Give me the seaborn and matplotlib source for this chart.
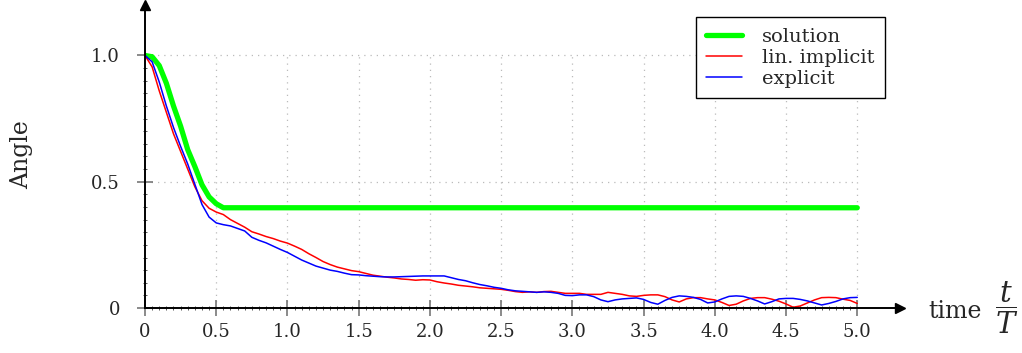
import numpy as np
import pandas as pd
import matplotlib
matplotlib.use('Agg')
import matplotlib.pyplot as plt
import seaborn as sns

# time grid (t/T) for the two numerical schemes
t = np.round(np.arange(0, 5.0001, 0.05), 2)

# exact solution, read at a few points, flat after t=0.55
t_sol = [0, 0.05, 0.1, 0.15, 0.2, 0.25, 0.3, 0.35, 0.4, 0.45, 0.5, 0.55, 5.0]
solution = [1.0, 0.995, 0.96, 0.89, 0.80, 0.72, 0.627, 0.56, 0.488, 0.44, 0.413, 0.397, 0.397]

lin_implicit = [
    1.0, 0.955, 0.86, 0.775, 0.69, 0.62, 0.55, 0.48, 0.425, 0.395,
    0.38, 0.37, 0.35, 0.335, 0.32, 0.302, 0.293, 0.283, 0.275, 0.265,
    0.257, 0.245, 0.232, 0.215, 0.2, 0.184, 0.172, 0.162, 0.155, 0.148,
    0.144, 0.137, 0.13, 0.126, 0.122, 0.119, 0.115, 0.113, 0.11, 0.112,
    0.111, 0.104, 0.099, 0.095, 0.09, 0.087, 0.084, 0.08, 0.078, 0.076,
    0.074, 0.07, 0.065, 0.062, 0.064, 0.062, 0.065, 0.066, 0.062, 0.058,
    0.058, 0.058, 0.054, 0.054, 0.054, 0.062, 0.058, 0.054, 0.048, 0.046,
    0.05, 0.052, 0.052, 0.045, 0.032, 0.024, 0.036, 0.041, 0.041, 0.036,
    0.032, 0.022, 0.01, 0.015, 0.028, 0.038, 0.041, 0.041, 0.035, 0.027,
    0.016, 0.003, 0.008, 0.02, 0.032, 0.041, 0.042, 0.041, 0.035, 0.03,
    0.018,
]

explicit = [
    1.0, 0.975, 0.895, 0.8, 0.715, 0.64, 0.57, 0.49, 0.41, 0.36,
    0.337, 0.33, 0.325, 0.315, 0.305, 0.28, 0.268, 0.258, 0.245, 0.232,
    0.22, 0.205, 0.19, 0.178, 0.166, 0.158, 0.15, 0.145, 0.138, 0.132,
    0.131, 0.128, 0.126, 0.124, 0.123, 0.123, 0.124, 0.125, 0.126, 0.127,
    0.127, 0.127, 0.127, 0.12, 0.113, 0.108, 0.1, 0.093, 0.088, 0.082,
    0.078, 0.072, 0.068, 0.066, 0.064, 0.062, 0.064, 0.062, 0.058, 0.05,
    0.049, 0.052, 0.052, 0.045, 0.032, 0.025, 0.032, 0.036, 0.038, 0.04,
    0.034, 0.022, 0.015, 0.03, 0.042, 0.048, 0.046, 0.042, 0.034, 0.02,
    0.024, 0.036, 0.046, 0.048, 0.046, 0.038, 0.028, 0.016, 0.025, 0.036,
    0.038, 0.038, 0.034, 0.028, 0.02, 0.012, 0.018, 0.026, 0.036, 0.041,
    0.042,
]

xticks = [0, 0.5, 1.0, 1.5, 2.0, 2.5, 3.0, 3.5, 4.0, 4.5, 5.0]
xticklabels = ['0', '0.5', '1.0', '1.5', '2.0', '2.5', '3.0', '3.5', '4.0', '4.5', '5.0']
yticks = [0, 0.5, 1.0]
yticklabels = ['0', '0.5', '1.0']

sns.set_style('white')
plt.rcParams['font.family'] = ['DejaVu Serif']
plt.rcParams['mathtext.fontset'] = 'dejavuserif'

fig = plt.figure(figsize=(10.22, 3.53), dpi=100)
ax = fig.add_axes([145 / 1022, 1 - 308 / 353, 755 / 1022, 303 / 353])

# dotted grid only over the data range
ax.vlines(xticks[1:], 0, 1.0, colors='#bbbbbb', linestyles=(0, (1, 4)), lw=0.9, zorder=0)
ax.hlines(yticks[1:], 0, 5.0, colors='#bbbbbb', linestyles=(0, (1, 4)), lw=0.9, zorder=0)

sns.lineplot(x=t_sol, y=solution, color='#00ff00', lw=3.8, label='solution', ax=ax, zorder=2)
sns.lineplot(x=t, y=lin_implicit, color='#ff0000', lw=1.1, label='lin. implicit', ax=ax, zorder=3)
sns.lineplot(x=t, y=explicit, color='#0000ff', lw=1.1, label='explicit', ax=ax, zorder=4)

ax.set_xlim(0, 5.3)
ax.set_ylim(0, 1.2)

for s in ['top', 'right']:
    ax.spines[s].set_visible(False)
for s in ['left', 'bottom']:
    ax.spines[s].set_color('black')
    ax.spines[s].set_linewidth(1.4)
    ax.spines[s].set_zorder(5)

# arrow heads
ax.plot(1, 0, '>k', ms=7, transform=ax.get_yaxis_transform(), clip_on=False)
ax.plot(0, 1, '^k', ms=7, transform=ax.get_xaxis_transform(), clip_on=False)

ax.set_xticks(xticks)
ax.set_xticklabels(xticklabels)
ax.set_yticks(yticks)
ax.set_yticklabels(yticklabels)
ax.set_xticks(np.arange(0, 5.001, 0.05), minor=True)
ax.set_yticks(np.arange(0, 1.001, 0.05), minor=True)
ax.tick_params(which='both', bottom=True, left=True)
ax.tick_params(which='major', direction='inout', length=12, width=1.2, color='#777777',
               labelsize=13, pad=5)
ax.tick_params(which='minor', direction='inout', length=3, width=0.7, color='#555555')
ax.tick_params(axis='y', which='major', pad=12)

ax.set_xlabel('')
ax.set_ylabel('')
fig.text(22 / 1022, 1 - 155 / 353, 'Angle', rotation=90, fontsize=17, ha='center', va='center')
fig.text(928 / 1022, 1 - 318 / 353, 'time', fontsize=17, ha='left', va='baseline')
fig.text(1007 / 1022, 1 - 308 / 353, r'$\dfrac{t}{T}$', fontsize=21, ha='center', va='center')

leg = ax.legend(loc='upper right', bbox_to_anchor=(885 / 1022, 1 - 17 / 353),
                bbox_transform=fig.transFigure, borderaxespad=0, fontsize=14,
                frameon=True, fancybox=False, framealpha=1, edgecolor='black',
                handlelength=1.85, handletextpad=1.0, labelspacing=0.15, borderpad=0.55)
leg.get_frame().set_linewidth(1.0)

fig.savefig('out.png', dpi=100)
